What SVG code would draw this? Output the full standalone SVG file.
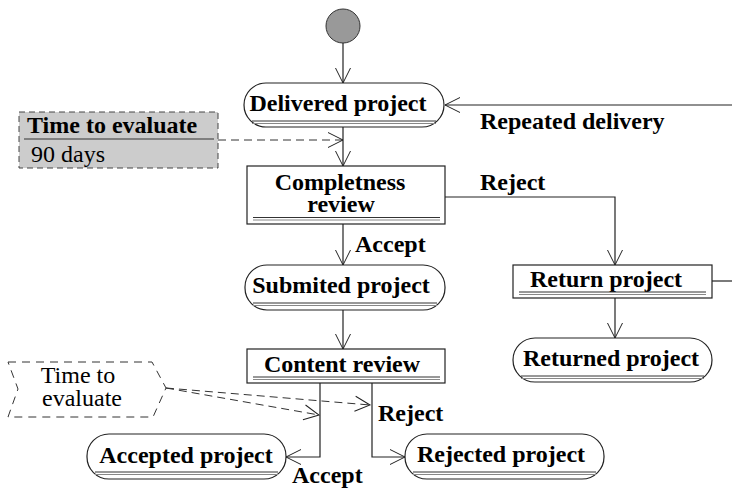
<svg xmlns="http://www.w3.org/2000/svg" width="732" height="489" viewBox="0 0 732 489">
<defs>
<marker id="arr" markerWidth="20" markerHeight="20" refX="16" refY="8" orient="auto" markerUnits="userSpaceOnUse" overflow="visible"><path d="M1,0.5 L16,8 L1,15.5" fill="none" stroke="#222" stroke-width="1"/></marker>
<style>
.node{fill:#fff;stroke:#222;stroke-width:1.2}
.t{font-family:"Liberation Serif","Times New Roman",serif;font-size:24px;font-weight:bold;fill:#000;text-anchor:middle}
.r{font-family:"Liberation Serif","Times New Roman",serif;font-size:24px;fill:#000}
.lbl{font-family:"Liberation Serif","Times New Roman",serif;font-size:24px;font-weight:bold;fill:#000}
.ul1{stroke:#333;stroke-width:1}
.ul2{stroke:#888;stroke-width:1}
.c{fill:none;stroke:#222;stroke-width:1.2}
.d{fill:none;stroke:#333;stroke-width:1;stroke-dasharray:8,5}
</style>
</defs>

<g id="start"><circle cx="343" cy="26" r="17" fill="#999" stroke="#333" stroke-width="1"/></g>

<g id="delivered">
<rect class="node" x="244" y="83" width="200" height="44" rx="22" ry="22"/>
<text class="t" x="338" y="111">Delivered project</text>
<line class="ul1" x1="252" y1="121" x2="436" y2="121"/><line class="ul2" x1="252" y1="123.5" x2="436" y2="123.5"/>
</g>

<g id="note1">
<rect x="19" y="112" width="199" height="56" fill="#ccc" stroke="#444" stroke-width="1" stroke-dasharray="6,4"/>
<line x1="24" y1="139" x2="214" y2="139" stroke="#333" stroke-width="1"/>
<text class="lbl" x="27" y="133">Time to evaluate</text>
<text class="r" x="31" y="162">90 days</text>
</g>

<g id="completness">
<rect class="node" x="247" y="166" width="198" height="58"/>
<text class="t" x="340" y="190">Completness</text>
<text class="t" x="341" y="212">review</text>
<line class="ul1" x1="253" y1="217.5" x2="440" y2="217.5"/><line class="ul2" x1="253" y1="220" x2="440" y2="220"/>
</g>

<g id="submited">
<rect class="node" x="245" y="265" width="200" height="45" rx="22" ry="22"/>
<text class="t" x="341" y="293">Submited project</text>
<line class="ul1" x1="253" y1="303" x2="437" y2="303"/><line class="ul2" x1="253" y1="305.5" x2="437" y2="305.5"/>
</g>

<g id="content">
<rect class="node" x="247" y="349" width="198" height="34"/>
<text class="t" x="342" y="372">Content review</text>
<line class="ul1" x1="253" y1="377" x2="440" y2="377"/><line class="ul2" x1="253" y1="379.5" x2="440" y2="379.5"/>
</g>

<g id="return">
<rect class="node" x="513" y="265" width="199" height="33"/>
<text class="t" x="606" y="287">Return project</text>
<line class="ul1" x1="519" y1="292" x2="706" y2="292"/><line class="ul2" x1="519" y1="294.5" x2="706" y2="294.5"/>
</g>

<g id="returned">
<rect class="node" x="513" y="338" width="199" height="44" rx="22" ry="22"/>
<text class="t" x="611" y="366">Returned project</text>
<line class="ul1" x1="521" y1="376" x2="704" y2="376"/><line class="ul2" x1="521" y1="378.5" x2="704" y2="378.5"/>
</g>

<g id="note2">
<path d="M8,362 L152,362 L166,388 L153,417 L8,417 L18,389 Z" fill="none" stroke="#333" stroke-width="1" stroke-dasharray="8,6"/>
<text class="r" x="78" y="383" text-anchor="middle">Time to</text>
<text class="r" x="82" y="406" text-anchor="middle">evaluate</text>
</g>

<g id="accepted">
<rect class="node" x="87" y="434" width="199" height="45" rx="22" ry="22"/>
<text class="t" x="186" y="463">Accepted project</text>
<line class="ul1" x1="95" y1="472" x2="278" y2="472"/><line class="ul2" x1="95" y1="474.5" x2="278" y2="474.5"/>
</g>

<g id="rejected">
<rect class="node" x="405" y="434" width="199" height="45" rx="22" ry="22"/>
<text class="t" x="501" y="462">Rejected project</text>
<line class="ul1" x1="413" y1="472" x2="596" y2="472"/><line class="ul2" x1="413" y1="474.5" x2="596" y2="474.5"/>
</g>

<g id="connectors">
<line class="c" x1="343" y1="43" x2="343" y2="83" marker-end="url(#arr)"/>
<line class="c" x1="343" y1="127" x2="343" y2="166" marker-end="url(#arr)"/>
<line class="c" x1="343" y1="224" x2="343" y2="265" marker-end="url(#arr)"/>
<polyline class="c" points="445,197 615,197 615,265" marker-end="url(#arr)"/>
<line class="c" x1="343" y1="310" x2="343" y2="349" marker-end="url(#arr)"/>
<polyline class="c" points="320,383 320,457 286,457" marker-end="url(#arr)"/>
<polyline class="c" points="372,383 372,457 405,457" marker-end="url(#arr)"/>
<line class="c" x1="615" y1="298" x2="615" y2="338" marker-end="url(#arr)"/>
<line class="c" x1="732" y1="105" x2="445" y2="105" marker-end="url(#arr)"/>
<line class="c" x1="712" y1="281" x2="732" y2="281"/>
<line class="d" x1="218" y1="140" x2="343" y2="140" marker-end="url(#arr)"/>
<line class="d" x1="166" y1="388" x2="370" y2="405" marker-end="url(#arr)"/>
<line class="d" x1="166" y1="388" x2="319" y2="415" marker-end="url(#arr)"/>
<text class="lbl" x="480" y="129">Repeated delivery</text>
<text class="lbl" x="480" y="190">Reject</text>
<text class="lbl" x="355" y="252">Accept</text>
<text class="lbl" x="378" y="421">Reject</text>
<text class="lbl" x="292" y="483">Accept</text>
</g>
</svg>
